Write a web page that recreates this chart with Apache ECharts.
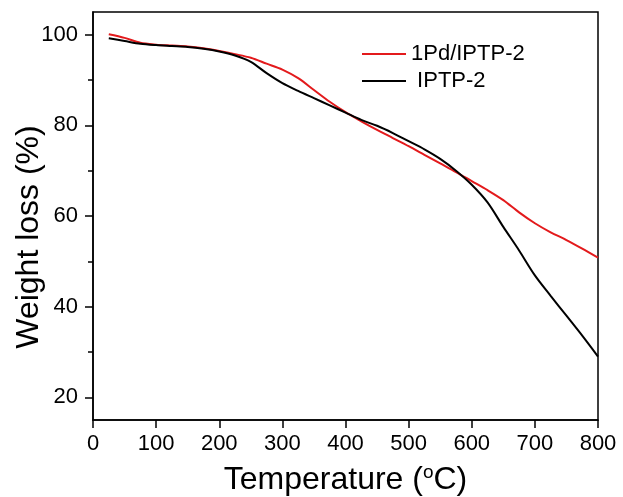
<!DOCTYPE html>
<html>
<head>
  <meta charset="utf-8">
  <script src="https://cdn.jsdelivr.net/npm/echarts@6/dist/echarts.min.js"></script>
  <style>
    html, body { margin: 0; padding: 0; background: #fff; }
    #chart { width: 623px; height: 497px; }
  </style>
</head>
<body>
<div id="chart"></div>
<script>
  // 温度 (°C)
  var temps = [25, 50, 75, 100, 125, 150, 175, 200, 225, 250, 275, 300, 325, 350, 375, 400,
    425, 450, 475, 500, 525, 550, 575, 600, 625, 650, 675, 700, 725, 750, 775, 800]
  // 1Pd/IPTP-2 失重曲线
  var pdData = [100.1, 99.3, 98.2, 97.8, 97.6, 97.4, 97.0, 96.4, 95.7, 94.9, 93.6, 92.3, 90.4, 87.8, 85.2, 82.9,
    80.9, 79.0, 77.2, 75.4, 73.5, 71.6, 69.7, 67.7, 65.7, 63.5, 60.8, 58.4, 56.4, 54.7, 52.8, 50.8]
  // IPTP-2 失重曲线
  var iptpData = [99.2, 98.6, 98.0, 97.7, 97.5, 97.3, 96.9, 96.3, 95.4, 94.0, 91.5, 89.3, 87.6, 86.0, 84.4, 82.8,
    81.2, 79.9, 78.3, 76.5, 74.7, 72.6, 70.0, 66.9, 63.0, 57.6, 52.4, 46.9, 42.4, 38.0, 33.6, 29.0]
  // 刻度
  var yMajorTicks = [20, 40, 60, 80, 100]
  var yMinorTicks = [30, 50, 70, 90]

  function pairs(xs, ys) {
    return xs.map(function (x, i) { return [x, ys[i]] })
  }

  var font = '"Liberation Sans", Arial, sans-serif'
  var myChart = echarts.init(document.getElementById('chart'))

  var option = {
    animation: false,
    backgroundColor: '#fff',
    textStyle: {fontFamily: font},
    grid: {
      left: 93,
      right: 25,
      top: 12,
      bottom: 77,
      containLabel: false,
      outerBoundsMode: 'none',
      show: true,
      borderColor: '#000',
      borderWidth: 1.5
    },
    legend: {
      orient: 'vertical',
      left: 357,
      top: 38,
      icon: 'rect',
      itemWidth: 44,
      itemHeight: 2,
      itemGap: 5,
      textStyle: {
        fontFamily: font,
        fontSize: 22,
        lineHeight: 22,
        color: '#000'
      },
      formatter: function (name) {
        return name === 'IPTP-2' ? ' ' + name : name
      },
      data: ['1Pd/IPTP-2', 'IPTP-2']
    },
    xAxis: {
      type: 'value',
      min: 0,
      max: 800,
      interval: 100,
      name: 'Temperature ({sup|o}C)',
      nameLocation: 'middle',
      nameGap: 43,
      nameMoveOverlap: false,
      nameTextStyle: {
        fontFamily: font,
        fontSize: 32,
        color: '#000',
        rich: {
          sup: {fontFamily: font, fontSize: 19, color: '#000', verticalAlign: 'top', padding: [0, 0, 15, 0]}
        }
      },
      axisLine: {lineStyle: {color: '#000', width: 1.5}},
      axisTick: {inside: false, length: 8, lineStyle: {color: '#000', width: 1.5}},
      axisLabel: {fontFamily: font, fontSize: 22, color: '#000', margin: 13},
      splitLine: {show: false}
    },
    yAxis: [{
      type: 'value',
      min: 15,
      max: 105,
      name: 'Weight loss (%)',
      nameLocation: 'middle',
      nameGap: 48,
      nameMoveOverlap: false,
      nameTextStyle: {
        fontFamily: font,
        fontSize: 32,
        color: '#000',
        padding: [0, 42, 0, 0]
      },
      axisLine: {lineStyle: {color: '#000', width: 1.5}},
      axisTick: {inside: false, length: 8, customValues: yMajorTicks, lineStyle: {color: '#000', width: 1.5}},
      axisLabel: {fontFamily: font, fontSize: 22, color: '#000', margin: 15, customValues: yMajorTicks},
      splitLine: {show: false}
    }, {
      // 次刻度
      type: 'value',
      position: 'left',
      min: 15,
      max: 105,
      axisLine: {show: false},
      axisTick: {inside: false, length: 5, customValues: yMinorTicks, lineStyle: {color: '#000', width: 1.5}},
      axisLabel: {show: false},
      splitLine: {show: false}
    }],
    series: [{
      name: '1Pd/IPTP-2',
      type: 'line',
      smooth: 0.3,
      symbol: 'none',
      lineStyle: {color: '#e31a1c', width: 2},
      itemStyle: {color: '#e31a1c'},
      data: pairs(temps, pdData)
    }, {
      name: 'IPTP-2',
      type: 'line',
      smooth: 0.3,
      symbol: 'none',
      lineStyle: {color: '#000', width: 2},
      itemStyle: {color: '#000'},
      data: pairs(temps, iptpData)
    }]
  }

  myChart.setOption(option)
</script>
</body>
</html>
